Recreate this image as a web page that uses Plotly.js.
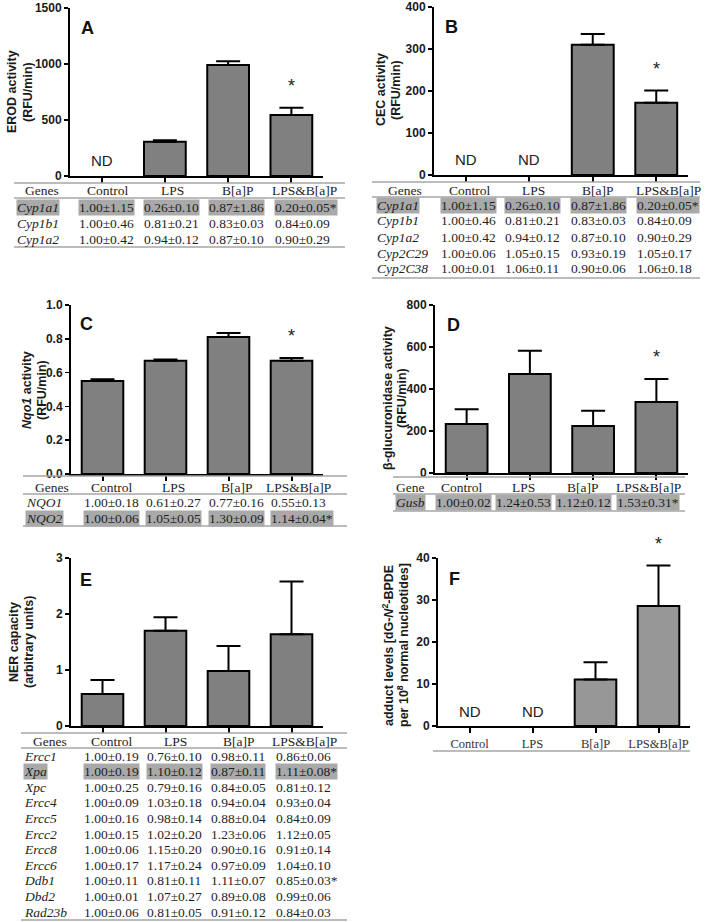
<!DOCTYPE html>
<html><head><meta charset="utf-8">
<script src="https://cdn.plot.ly/plotly-3.0.1.min.js"></script>
<style>html,body{margin:0;padding:0;background:#fff}#chart{width:711px;height:922px}</style>
</head><body><div id="chart"></div>
<script>
// ---------- data ----------
const groups = ['Control', 'LPS', 'B[a]P', 'LPS&B[a]P'];

const erodMean = [null, 305, 990, 545];      // A (Control ND)
const erodErr  = [0, 15, 35, 65];
const cecMean  = [null, null, 310, 172];     // B (Control, LPS ND)
const cecErr   = [0, 0, 26, 29];
const nqoMean  = [0.55, 0.67, 0.81, 0.67];   // C
const nqoErr   = [0.01, 0.008, 0.025, 0.016];
const gusMean  = [233, 471, 224, 338];       // D
const gusErr   = [70, 111, 73, 110];
const nerMean  = [0.57, 1.70, 0.98, 1.64];   // E
const nerErr   = [0.25, 0.24, 0.45, 0.94];
const addMean  = [null, null, 11.1, 28.6];   // F (Control, LPS ND)
const addErr   = [0, 0, 4.1, 9.6];

const sigA = [false, false, false, true];
const sigB = [false, false, false, true];
const sigC = [false, false, false, true];
const sigD = [false, false, false, true];
const sigE = [false, false, false, false];
const sigF = [false, false, false, true];

// tables
const genesA = ['Cyp1a1', 'Cyp1b1', 'Cyp1a2'];
const valsA = [
  ['1.00±1.15', '0.26±0.10', '0.87±1.86', '0.20±0.05*'],
  ['1.00±0.46', '0.81±0.21', '0.83±0.03', '0.84±0.09'],
  ['1.00±0.42', '0.94±0.12', '0.87±0.10', '0.90±0.29']
];
const genesB = ['Cyp1a1', 'Cyp1b1', 'Cyp1a2', 'Cyp2C29', 'Cyp2C38'];
const valsB = [
  ['1.00±1.15', '0.26±0.10', '0.87±1.86', '0.20±0.05*'],
  ['1.00±0.46', '0.81±0.21', '0.83±0.03', '0.84±0.09'],
  ['1.00±0.42', '0.94±0.12', '0.87±0.10', '0.90±0.29'],
  ['1.00±0.06', '1.05±0.15', '0.93±0.19', '1.05±0.17'],
  ['1.00±0.01', '1.06±0.11', '0.90±0.06', '1.06±0.18']
];
const genesC = ['NQO1', 'NQO2'];
const valsC = [
  ['1.00±0.18', '0.61±0.27', '0.77±0.16', '0.55±0.13'],
  ['1.00±0.06', '1.05±0.05', '1.30±0.09', '1.14±0.04*']
];
const genesD = ['Gusb'];
const valsD = [
  ['1.00±0.02', '1.24±0.53', '1.12±0.12', '1.53±0.31*']
];
const genesE = ['Ercc1', 'Xpa', 'Xpc', 'Ercc4', 'Ercc5', 'Ercc2', 'Ercc8', 'Ercc6', 'Ddb1', 'Dbd2', 'Rad23b'];
const valsE = [
  ['1.00±0.19', '0.76±0.10', '0.98±0.11', '0.86±0.06'],
  ['1.00±0.19', '1.10±0.12', '0.87±0.11', '1.11±0.08*'],
  ['1.00±0.25', '0.79±0.16', '0.84±0.05', '0.81±0.12'],
  ['1.00±0.09', '1.03±0.18', '0.94±0.04', '0.93±0.04'],
  ['1.00±0.16', '0.98±0.14', '0.88±0.04', '0.84±0.09'],
  ['1.00±0.15', '1.02±0.20', '1.23±0.06', '1.12±0.05'],
  ['1.00±0.06', '1.15±0.20', '0.90±0.16', '0.91±0.14'],
  ['1.00±0.17', '1.17±0.24', '0.97±0.09', '1.04±0.10'],
  ['1.00±0.11', '0.81±0.11', '1.11±0.07', '0.85±0.03*'],
  ['1.00±0.01', '1.07±0.27', '0.89±0.08', '0.99±0.06'],
  ['1.00±0.06', '0.81±0.05', '0.91±0.12', '0.84±0.03']
];

// ---------- layout helpers ----------
const W = 711, H = 922;
const px = v => v / W;
const py = v => 1 - v / H;

const panels = [
  {mean: erodMean, err: erodErr, sig: sigA, xdom: [70, 323], ydom: [8, 176], range: [0, 1500], dtick: 500, fmt: '',
   title: ['EROD activity', '(RFU/min)'], tx: [12, 28], ty: 92, letter: 'A', lx: 87, ly: 28, fill: '#808080', labels: false},
  {mean: cecMean, err: cecErr, sig: sigB, xdom: [434, 688], ydom: [7, 175], range: [0, 400], dtick: 100, fmt: '',
   title: ['CEC activity', '(RFU/min)'], tx: [381, 396], ty: 90, letter: 'B', lx: 451, ly: 27, fill: '#808080', labels: false},
  {mean: nqoMean, err: nqoErr, sig: sigC, xdom: [71, 323], ydom: [305, 474], range: [0, 1], dtick: 0.2, fmt: '.1f',
   title: ['<i>Nqo1</i> activity', '(RFU/min)'], tx: [27, 42], ty: 390, letter: 'C', lx: 86, ly: 324, fill: '#808080', labels: false},
  {mean: gusMean, err: gusErr, sig: sigD, xdom: [435, 688], ydom: [305, 473], range: [0, 800], dtick: 200, fmt: '',
   title: ['β-glucuronidase activity', '(RFU/min)'], tx: [388, 402], ty: 398, letter: 'D', lx: 453, ly: 325, fill: '#808080', labels: false},
  {mean: nerMean, err: nerErr, sig: sigE, xdom: [71, 323], ydom: [558, 726], range: [0, 3], dtick: 1, fmt: '',
   title: ['NER capacity', '(arbitrary units)'], tx: [14, 29], ty: 642, letter: 'E', lx: 86, ly: 580, fill: '#808080', labels: false},
  {mean: addMean, err: addErr, sig: sigF, xdom: [438, 690], ydom: [558, 726], range: [0, 40], dtick: 10, fmt: '',
   title: ['adduct levels [dG-<i>N</i><sup>2</sup>-BPDE', 'per 10<sup>8</sup> normal nucleotides]'], tx: [388, 403], ty: 645,
   letter: 'F', lx: 454, ly: 579, fill: '#979797', labels: true}
];

const tables = [
  {genes: genesA, vals: valsA, head: 'Genes', hdrX: [42, 108, 172, 238, 304], colLeft: [18, 80, 145, 210, 276],
   top: 183, hdrLine: 198, bottom: 247, x0: 14, x1: 345, hdrY: 191, rowY0: 207, dy: 16, hl: 0},
  {genes: genesB, vals: valsB, head: 'Genes', hdrX: [405, 470, 533, 598, 668], colLeft: [378, 442, 506, 572, 638],
   top: 182, hdrLine: 197, bottom: 278, x0: 372, x1: 700, hdrY: 190, rowY0: 205, dy: 16, hl: 0},
  {genes: genesC, vals: valsC, head: 'Genes', hdrX: [52, 112, 173, 237, 298], colLeft: [27, 85, 147, 210, 272],
   top: 476, hdrLine: 494, bottom: 526, x0: 23, x1: 347, hdrY: 487, rowY0: 503, dy: 15, hl: 1},
  {genes: genesD, vals: valsD, head: 'Gene', hdrX: [410, 462, 523, 583, 648], colLeft: [397, 437, 497, 557, 618],
   top: 477, hdrLine: 494, bottom: 511, x0: 393, x1: 685, hdrY: 487, rowY0: 503, dy: 15, hl: 0},
  {genes: genesE, vals: valsE, head: 'Genes', hdrX: [50, 112, 175, 239, 304], colLeft: [25, 85, 148, 212, 277],
   top: 733, hdrLine: 748, bottom: 920, x0: 21, x1: 347, hdrY: 741, rowY0: 756, dy: 15.6, hl: 1}
];

const SANS = 'Liberation Sans, Arial, sans-serif';
const SERIF = 'Liberation Serif, Times New Roman, serif';
const TXT = '#1e1e1e';
const HL = '#a9a9a9';
const LINE = '#a6a6a6';

const traces = [];
const layout = {
  width: W, height: H, margin: {l: 0, r: 0, t: 0, b: 0},
  paper_bgcolor: '#fff', plot_bgcolor: '#fff', showlegend: false,
  annotations: [], shapes: []
};

panels.forEach((p, i) => {
  const n = i + 1;
  const sfx = n === 1 ? '' : String(n);
  traces.push({
    type: 'bar', x: groups, y: p.mean, xaxis: 'x' + sfx, yaxis: 'y' + sfx,
    width: 0.66, hoverinfo: 'skip',
    marker: {color: p.fill, line: {color: '#000', width: 2}},
    error_y: {type: 'data', symmetric: false, array: p.err, arrayminus: p.err.map(() => 0),
              color: '#000', thickness: 2, width: 12}
  });
  layout['xaxis' + sfx] = {
    domain: [px(p.xdom[0]), px(p.xdom[1])], anchor: 'y' + sfx, type: 'category',
    range: [-0.5, 3.5], showline: true, linewidth: 2, linecolor: '#000',
    ticks: 'outside', ticklen: 5, tickwidth: 2, tickcolor: '#000',
    showgrid: false, zeroline: false, fixedrange: true,
    showticklabels: p.labels, tickfont: {family: SERIF, size: 12.5, color: '#333'}
  };
  layout['yaxis' + sfx] = {
    domain: [py(p.ydom[1]), py(p.ydom[0])], anchor: 'x' + sfx,
    range: p.range, dtick: p.dtick, tick0: 0, tickformat: p.fmt,
    showline: true, linewidth: 2, linecolor: '#000',
    ticks: 'outside', ticklen: 4, tickwidth: 1.5, tickcolor: '#000',
    showgrid: false, zeroline: false, fixedrange: true,
    tickfont: {family: SANS, size: 12, color: '#1a1a1a', weight: 700}
  };
  // axis title, one annotation per line
  p.title.forEach((line, j) => {
    layout.annotations.push({
      xref: 'paper', yref: 'paper', x: px(p.tx[j]), y: py(p.ty), text: line, textangle: -90,
      showarrow: false, xanchor: 'center', yanchor: 'middle',
      font: {family: SANS, size: 12.5, color: '#1a1a1a', weight: 700}
    });
  });
  // panel letter
  layout.annotations.push({
    xref: 'paper', yref: 'paper', x: px(p.lx), y: py(p.ly), text: p.letter,
    showarrow: false, xanchor: 'center', yanchor: 'middle',
    font: {family: SANS, size: 18, color: '#111', weight: 700}
  });
  // ND labels & significance stars
  groups.forEach((g, k) => {
    if (p.mean[k] === null) {
      layout.annotations.push({
        xref: 'x' + sfx, yref: 'y' + sfx, x: g, y: 0, yshift: 15, text: 'ND',
        showarrow: false, xanchor: 'center', yanchor: 'middle',
        font: {family: SANS, size: 15, color: '#222'}
      });
    }
    if (p.sig[k]) {
      layout.annotations.push({
        xref: 'x' + sfx, yref: 'y' + sfx, x: g, y: p.mean[k] + p.err[k], yshift: 22, text: '*',
        showarrow: false, xanchor: 'center', yanchor: 'middle',
        font: {family: SANS, size: 18, color: '#222'}
      });
    }
  });
});

// F label underline
layout.shapes.push({type: 'line', xref: 'paper', yref: 'paper', x0: px(433), x1: px(690), y0: py(751), y1: py(751),
  line: {color: LINE, width: 1.5}});

// tables
tables.forEach(t => {
  [t.top, t.hdrLine, t.bottom].forEach(yy => {
    layout.shapes.push({type: 'line', xref: 'paper', yref: 'paper', x0: px(t.x0), x1: px(t.x1), y0: py(yy), y1: py(yy),
      line: {color: LINE, width: 1.5}});
  });
  const hdr = [t.head].concat(groups);
  hdr.forEach((h, c) => {
    layout.annotations.push({
      xref: 'paper', yref: 'paper', x: px(t.hdrX[c]), y: py(t.hdrY), text: h,
      showarrow: false, xanchor: 'center', yanchor: 'middle',
      font: {family: SERIF, size: 13.5, color: TXT}
    });
  });
  t.genes.forEach((g, r) => {
    const yy = t.rowY0 + r * t.dy;
    const hl = r === t.hl;
    const cells = ['<i>' + g + '</i>'].concat(t.vals[r]);
    cells.forEach((txt, c) => {
      layout.annotations.push({
        xref: 'paper', yref: 'paper', x: px(t.colLeft[c] - 2), y: py(yy), text: txt,
        showarrow: false, xanchor: 'left', yanchor: 'middle',
        bgcolor: hl ? HL : 'rgba(0,0,0,0)', borderpad: 0,
        font: {family: SERIF, size: 13.5, color: TXT}
      });
    });
  });
});

Plotly.newPlot('chart', traces, layout, {staticPlot: true, displayModeBar: false});
</script></body></html>
